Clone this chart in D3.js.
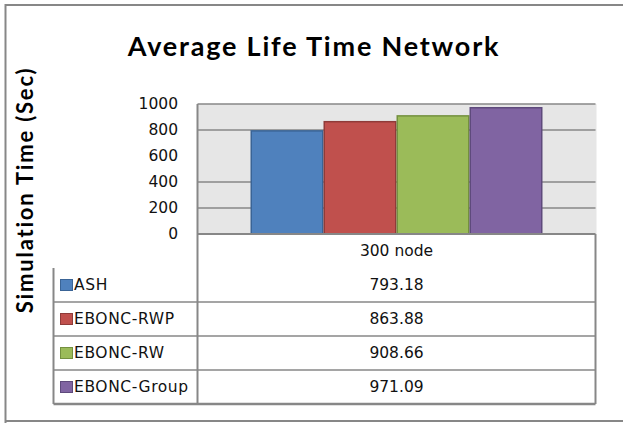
<!DOCTYPE html>
<html>
<head>
<meta charset="utf-8">
<script src="https://cdn.jsdelivr.net/npm/d3@7"></script>
<style>
  body { margin: 0; background: #fff; }
  svg { display: block; }
</style>
</head>
<body>
<div id="chart"></div>
<script>
// Datos del gráfico
const categories = ["300 node"];
const series = ["ASH", "EBONC-RWP", "EBONC-RW", "EBONC-Group"];
const values = [793.18, 863.88, 908.66, 971.09];
const valueLabels = ["793.18", "863.88", "908.66", "971.09"];
const yTicks = [0, 200, 400, 600, 800, 1000];
const gridTicks = [200, 400, 800]; // la línea de 600 no aparece en la imagen
const colors = ["#4f81bd", "#c0504d", "#9bbb59", "#8064a2"];
const strokes = ["#3a6496", "#8f3b39", "#74903f", "#5e4a7c"];

// Configuración general
const width = 623;
const height = 423;
const plot = { left: 197.5, right: 595.5, top: 104, bottom: 234 };
const tableBottom = 404;
const tableLeft = 53.5;
const lineColor = "#878787";

const svg = d3.select("#chart")
    .append("svg")
    .attr("width", width)
    .attr("height", height)
    .attr("font-family", "DejaVu Sans");

// Marco exterior (recortado a la derecha)
svg.append("path")
    .attr("d", `M5.5,${height} V5 H${width} M5.5,421 H${width}`)
    .attr("fill", "none")
    .attr("stroke", lineColor)
    .attr("stroke-width", 2);

// Escalas
const x0 = d3.scaleBand().domain(categories).range([plot.left, plot.right]).paddingOuter(0.1815).paddingInner(0);
const x1 = d3.scaleBand().domain(series).range([0, x0.bandwidth()]).padding(0);
const y = d3.scaleLinear().domain([0, 1000]).range([plot.bottom, plot.top]);
const rows = d3.scaleBand().domain(series).range([268, tableBottom]);

// Fondo del área de trazado
svg.append("rect")
    .attr("x", plot.left)
    .attr("y", plot.top)
    .attr("width", plot.right - plot.left + 1)
    .attr("height", plot.bottom - plot.top)
    .attr("fill", "#e6e6e6");

// Líneas de cuadrícula
svg.append("g")
    .selectAll("line")
    .data(gridTicks)
    .join("line")
    .attr("x1", plot.left)
    .attr("x2", plot.right)
    .attr("y1", d => y(d))
    .attr("y2", d => y(d))
    .attr("stroke", lineColor)
    .attr("stroke-width", 1.5);

svg.append("line")
    .attr("x1", plot.left).attr("x2", plot.right)
    .attr("y1", y(1000)).attr("y2", y(1000))
    .attr("stroke", lineColor).attr("stroke-width", 1.5);

// Barras
svg.append("g")
    .selectAll("rect")
    .data(values)
    .join("rect")
    .attr("x", (d, i) => x0(categories[0]) + x1(series[i]) + 0.75)
    .attr("y", d => y(d))
    .attr("width", x1.bandwidth() - 1.5)
    .attr("height", d => y(0) - y(d))
    .attr("fill", (d, i) => colors[i])
    .attr("stroke", (d, i) => strokes[i])
    .attr("stroke-width", 1.5);

// Eje Y
const yAxis = d3.axisLeft(y).tickValues(yTicks).tickFormat(d3.format("d")).tickSize(0).tickPadding(0);
svg.append("g")
    .attr("transform", `translate(178, 0)`)
    .call(yAxis)
    .call(g => g.select(".domain").remove())
    .selectAll("text")
    .attr("font-family", "DejaVu Sans")
    .attr("font-size", 15.5)
    .attr("fill", "#111");

// Tabla de datos
const table = svg.append("g")
    .attr("stroke", lineColor)
    .attr("fill", "none");

table.append("line")
    .attr("x1", plot.left).attr("x2", plot.right)
    .attr("y1", y(0)).attr("y2", y(0))
    .attr("stroke-width", 2);

table.append("line")
    .attr("x1", plot.left).attr("x2", plot.left)
    .attr("y1", plot.top).attr("y2", tableBottom)
    .attr("stroke-width", 2);

table.append("line")
    .attr("x1", plot.right).attr("x2", plot.right)
    .attr("y1", y(0)).attr("y2", tableBottom)
    .attr("stroke-width", 2);

table.append("line")
    .attr("x1", tableLeft).attr("x2", tableLeft)
    .attr("y1", rows(series[0])).attr("y2", tableBottom)
    .attr("stroke-width", 2);

table.selectAll(".row-line")
    .data(series)
    .join("line")
    .attr("class", "row-line")
    .attr("x1", tableLeft)
    .attr("x2", plot.right)
    .attr("y1", d => rows(d) + rows.bandwidth())
    .attr("y2", d => rows(d) + rows.bandwidth())
    .attr("stroke-width", (d, i) => i === series.length - 1 ? 2.5 : 1.5);

// Encabezado de la categoría
svg.append("text")
    .attr("x", x0(categories[0]) + x0.bandwidth() / 2)
    .attr("y", (y(0) + rows(series[0])) / 2)
    .attr("dy", "0.35em")
    .attr("text-anchor", "middle")
    .attr("font-size", 15.5)
    .attr("fill", "#111")
    .text(categories[0]);

// Valores en la tabla
svg.append("g")
    .selectAll("text")
    .data(valueLabels)
    .join("text")
    .attr("x", x0(categories[0]) + x0.bandwidth() / 2)
    .attr("y", (d, i) => rows(series[i]) + rows.bandwidth() / 2)
    .attr("dy", "0.35em")
    .attr("text-anchor", "middle")
    .attr("font-size", 15.5)
    .attr("fill", "#111")
    .text(d => d);

// Leyenda dentro de la tabla
const legend = svg.append("g")
    .selectAll("g")
    .data(series)
    .join("g")
    .attr("transform", d => `translate(60, ${rows(d) + rows.bandwidth() / 2})`);

legend.append("rect")
    .attr("x", 0.5)
    .attr("y", -5.5)
    .attr("width", 12)
    .attr("height", 11)
    .attr("fill", (d, i) => colors[i])
    .attr("stroke", (d, i) => strokes[i])
    .attr("stroke-width", 1);

legend.append("text")
    .attr("x", 14)
    .attr("dy", "0.35em")
    .attr("font-size", 15.5)
    .attr("letter-spacing", 0.6)
    .attr("fill", "#111")
    .text(d => d);

// Título
svg.append("text")
    .attr("x", 314)
    .attr("y", 56)
    .attr("text-anchor", "middle")
    .attr("font-family", "Lato")
    .attr("font-weight", "bold")
    .attr("font-size", 27)
    .attr("letter-spacing", 1.8)
    .attr("fill", "#000")
    .text("Average Life Time Network");

// Título del eje Y
svg.append("text")
    .attr("transform", `translate(33, 190) rotate(-90)`)
    .attr("text-anchor", "middle")
    .attr("font-family", "Lato")
    .attr("font-weight", "bold")
    .attr("font-size", 22)
    .attr("letter-spacing", 1.8)
    .attr("fill", "#000")
    .text("Simulation Time (Sec)");
</script>
</body>
</html>
